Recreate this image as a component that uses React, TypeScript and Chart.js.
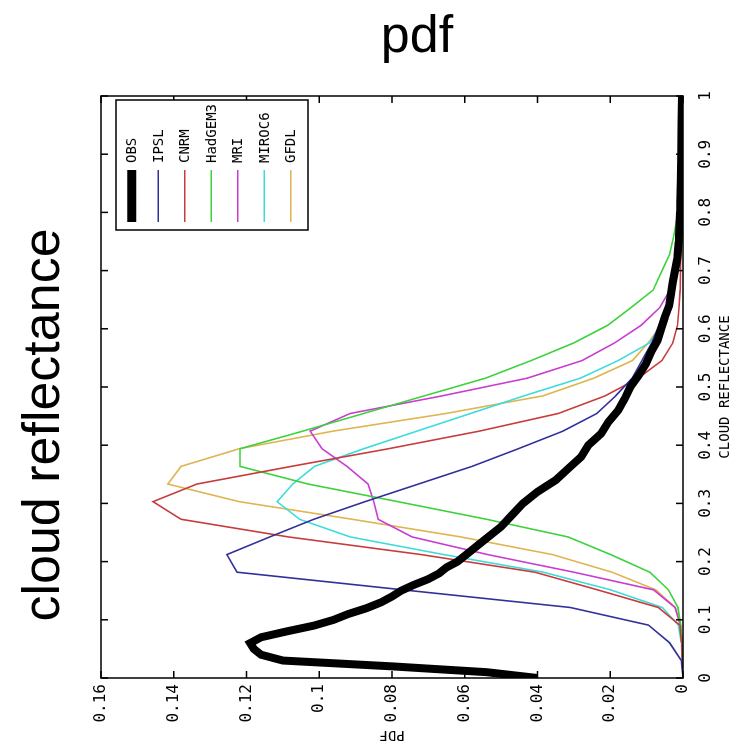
import React, { useEffect, useRef } from 'react';
import { Chart, registerables } from 'chart.js';

Chart.register(...registerables);

// Reflectance bins used by the model curves
const REFL = [0, 0.0303, 0.0606, 0.0909, 0.1212, 0.1515, 0.1818, 0.2121, 0.2424, 0.2727, 0.303, 0.3333, 0.3636, 0.3939, 0.4242, 0.4545, 0.4848, 0.5152, 0.5455, 0.5758, 0.6061, 0.6364, 0.6667, 0.697, 0.7273, 0.7576, 0.7879, 0.8182, 0.8485, 0.8788, 0.9091, 0.9394, 0.9697, 1.0];

// Observations (finer sampling)
const OBS_REFL = [0, 0.01, 0.02, 0.03, 0.04, 0.05, 0.06, 0.07, 0.08, 0.09, 0.10, 0.11, 0.12, 0.13, 0.14, 0.15, 0.16, 0.17, 0.18, 0.19, 0.20, 0.22, 0.24, 0.26, 0.28, 0.30, 0.32, 0.34, 0.36, 0.38, 0.40, 0.42, 0.44, 0.46, 0.48, 0.50, 0.52, 0.54, 0.56, 0.58, 0.60, 0.62, 0.64, 0.66, 0.68, 0.70, 0.72, 0.75, 0.80, 0.85, 0.90, 0.95, 1.0];
const OBS = [0.040, 0.054, 0.080, 0.110, 0.116, 0.118, 0.119, 0.116, 0.109, 0.1015, 0.096, 0.092, 0.087, 0.083, 0.080, 0.0775, 0.074, 0.070, 0.067, 0.065, 0.062, 0.058, 0.054, 0.050, 0.047, 0.044, 0.040, 0.035, 0.0315, 0.028, 0.026, 0.0225, 0.0205, 0.0178, 0.016, 0.0145, 0.0122, 0.0102, 0.0088, 0.007, 0.006, 0.005, 0.0038, 0.0033, 0.0028, 0.0022, 0.0016, 0.0012, 0.0008, 0.0006, 0.0005, 0.0004, 0.0003];

const IPSL = [0, 0.0005, 0.0037, 0.0095, 0.031, 0.077, 0.1226, 0.1254, 0.1136, 0.1015, 0.0874, 0.0727, 0.058, 0.0453, 0.033, 0.0237, 0.0185, 0.014, 0.0113, 0.0086, 0.0066, 0.0047, 0.0031, 0.0021, 0.0014, 0.0009, 0.0006, 0.0005, 0.0004, 0.0003, 0.0003, 0.0002, 0.0002, 0.0001];
const CNRM = [0, 0.0002, 0.0004, 0.0009, 0.0068, 0.0235, 0.0407, 0.072, 0.1085, 0.138, 0.1457, 0.1336, 0.1077, 0.081, 0.056, 0.0343, 0.0214, 0.0123, 0.0058, 0.0028, 0.0015, 0.0011, 0.0008, 0.0007, 0.0006, 0.0005, 0.0004, 0.0003, 0.0003, 0.0002, 0.0002, 0.0001, 0.0001, 0.0001];
const HADGEM3 = [0, 0.0001, 0.0003, 0.0006, 0.0014, 0.004, 0.0091, 0.0199, 0.0316, 0.054, 0.0784, 0.1031, 0.1218, 0.1218, 0.1045, 0.0878, 0.0711, 0.0543, 0.0417, 0.03, 0.0207, 0.0143, 0.0082, 0.006, 0.0037, 0.0026, 0.0017, 0.0012, 0.0008, 0.0006, 0.0004, 0.0003, 0.0002, 0.0001];
const MRI = [0, 0.0001, 0.0003, 0.0007, 0.0022, 0.0081, 0.030, 0.0537, 0.0745, 0.0838, 0.085, 0.0866, 0.0924, 0.0992, 0.1025, 0.0915, 0.0662, 0.0428, 0.0277, 0.0188, 0.0115, 0.0064, 0.0036, 0.0023, 0.0015, 0.0010, 0.0007, 0.0005, 0.0004, 0.0003, 0.0002, 0.0002, 0.0001, 0.0001];
const MIROC6 = [0, 0.0002, 0.0005, 0.0013, 0.0057, 0.0199, 0.0384, 0.0658, 0.0915, 0.1054, 0.1116, 0.1073, 0.1013, 0.0878, 0.0731, 0.0584, 0.0437, 0.0282, 0.0178, 0.0092, 0.0059, 0.0037, 0.0024, 0.0016, 0.0011, 0.0008, 0.0006, 0.0004, 0.0003, 0.0002, 0.0002, 0.0001, 0.0001, 0.0001];
const GFDL = [0, 0.0001, 0.0003, 0.0008, 0.0021, 0.0075, 0.0195, 0.0359, 0.0611, 0.0909, 0.122, 0.1416, 0.138, 0.122, 0.0962, 0.0652, 0.0385, 0.0245, 0.0139, 0.0096, 0.006, 0.0039, 0.0026, 0.0017, 0.0011, 0.0008, 0.0006, 0.0004, 0.0003, 0.0002, 0.0002, 0.0001, 0.0001, 0.0001];

const NAMES = ['OBS', 'IPSL', 'CNRM', 'HadGEM3', 'MRI', 'MIROC6', 'GFDL'];
const COLORS = ['#000000', '#30309a', '#c83c3c', '#3cd23c', '#c83cd2', '#3cdcdc', '#e0b450'];
const WIDTHS = [8, 1.6, 1.6, 1.6, 1.6, 1.6, 1.6];

const X_TICKS = [0, 0.1, 0.2, 0.3, 0.4, 0.5, 0.6, 0.7, 0.8, 0.9, 1];
const Y_TICKS = [0, 0.02, 0.04, 0.06, 0.08, 0.1, 0.12, 0.14, 0.16];

const TITLE = 'pdf';
const SIDE_TITLE = 'cloud reflectance';
const X_TITLE = 'CLOUD REFLECTANCE';
const Y_TITLE = 'PDF';

// unrotated canvas size
const CW = 663;
const CH = 653;
const MONO = '"DejaVu Sans Mono", monospace';

const fmt = (v: number) => String(Number(Number(v).toFixed(2)));

export default function App() {
  const ref = useRef<HTMLCanvasElement>(null);

  useEffect(() => {
    const canvas = ref.current;
    if (!canvas) return;

    const toPts = (xs: number[], ys: number[]) => xs.map((x, i) => ({ x, y: ys[i] }));
    const series = [toPts(OBS_REFL, OBS), toPts(REFL, IPSL), toPts(REFL, CNRM), toPts(REFL, HADGEM3), toPts(REFL, MRI), toPts(REFL, MIROC6), toPts(REFL, GFDL)];

    const framePlugin = {
      id: 'frameLegend',
      afterDatasetsDraw(chart: any) {
        const { ctx, chartArea: a, scales } = chart;
        const xs = scales.x;
        const ys = scales.y;
        ctx.save();
        ctx.strokeStyle = '#000';
        ctx.lineWidth = 1.5;
        ctx.strokeRect(a.left, a.top, a.width, a.height);
        const L = 7;
        ctx.beginPath();
        X_TICKS.forEach((v) => {
          const p = xs.getPixelForValue(v);
          ctx.moveTo(p, a.bottom); ctx.lineTo(p, a.bottom - L);
          ctx.moveTo(p, a.top); ctx.lineTo(p, a.top + L);
        });
        Y_TICKS.forEach((v) => {
          const p = ys.getPixelForValue(v);
          ctx.moveTo(a.left, p); ctx.lineTo(a.left + L, p);
          ctx.moveTo(a.right, p); ctx.lineTo(a.right - L, p);
        });
        ctx.stroke();

        // legend box
        const bl = a.right - 134, br = a.right - 4, bt = a.top + 15, bb = a.top + 207;
        ctx.fillStyle = '#fff';
        ctx.fillRect(bl, bt, br - bl, bb - bt);
        ctx.strokeRect(bl, bt, br - bl, bb - bt);
        ctx.font = `14px ${MONO}`;
        ctx.textAlign = 'left';
        ctx.textBaseline = 'middle';
        NAMES.forEach((n, i) => {
          const cy = a.top + 30.7 + 26.5 * i;
          ctx.strokeStyle = COLORS[i];
          ctx.lineWidth = i === 0 ? 9 : 1.6;
          ctx.beginPath();
          ctx.moveTo(a.right - 126, cy);
          ctx.lineTo(a.right - 74, cy);
          ctx.stroke();
          ctx.fillStyle = '#000';
          ctx.fillText(n, a.right - 67, cy + 1);
        });
        ctx.restore();
      },
    };

    const chart = new Chart(canvas, {
      type: 'line',
      data: {
        datasets: NAMES.map((n, i) => ({
          label: n,
          data: series[i],
          borderColor: COLORS[i],
          backgroundColor: COLORS[i],
          borderWidth: WIDTHS[i],
          pointRadius: 0,
          tension: 0,
          fill: false,
        })),
      },
      options: {
        responsive: false,
        animation: false,
        devicePixelRatio: 1,
        layout: { padding: { top: 16, right: 16, left: 0, bottom: 0 } },
        plugins: { legend: { display: false }, tooltip: { enabled: false } },
        scales: {
          x: {
            type: 'linear',
            min: 0,
            max: 1,
            afterBuildTicks: (s: any) => { s.ticks = X_TICKS.map((v) => ({ value: v })); },
            ticks: { font: { family: MONO, size: 16 }, color: '#000', padding: 13, maxRotation: 0, autoSkip: false, callback: (v: any) => fmt(v) },
            grid: { display: false, drawTicks: false },
            border: { display: false },
            title: { display: true, text: X_TITLE, color: '#000', font: { family: MONO, size: 14 }, padding: { top: 0, bottom: 4 } },
            afterFit: (s: any) => { s.height = 55; s.paddingLeft = 0; s.paddingRight = 0; },
          },
          y: {
            type: 'linear',
            min: 0,
            max: 0.16,
            afterBuildTicks: (s: any) => { s.ticks = Y_TICKS.map((v) => ({ value: v })); },
            ticks: { font: { family: MONO, size: 16 }, color: '#000', padding: 6, autoSkip: false, callback: (v: any) => fmt(v) },
            grid: { display: false, drawTicks: false },
            border: { display: false },
            title: { display: true, text: Y_TITLE, color: '#000', font: { family: MONO, size: 14 }, padding: { top: 0, bottom: 0 } },
            afterFit: (s: any) => { s.width = 65; s.paddingTop = 0; s.paddingBottom = 0; },
          },
        },
      },
      plugins: [framePlugin],
    } as any);

    return () => chart.destroy();
  }, []);

  return (
    <div style={{ position: 'absolute', left: 0, top: 0, width: 738, height: 743, overflow: 'hidden', background: '#fff' }}>
      <div style={{ position: 'absolute', left: 317, top: 8, width: 200, textAlign: 'center', fontFamily: '"Liberation Sans", Arial, sans-serif', fontSize: 52, lineHeight: '52px', color: '#000' }}>{TITLE}</div>
      <div style={{ position: 'absolute', left: 41 - 250, top: 425 - 26, width: 500, height: 52, textAlign: 'center', fontFamily: '"Liberation Sans", Arial, sans-serif', fontSize: 52, lineHeight: '52px', color: '#000', transform: 'rotate(-90deg)', transformOrigin: '50% 50%', whiteSpace: 'nowrap' }}>{SIDE_TITLE}</div>
      <div style={{ position: 'absolute', left: 85, top: 743, width: CW, height: CH, transformOrigin: '0 0', transform: 'rotate(-90deg)' }}>
        <canvas ref={ref} width={CW} height={CH} style={{ display: 'block', width: CW, height: CH }} />
      </div>
    </div>
  );
}
